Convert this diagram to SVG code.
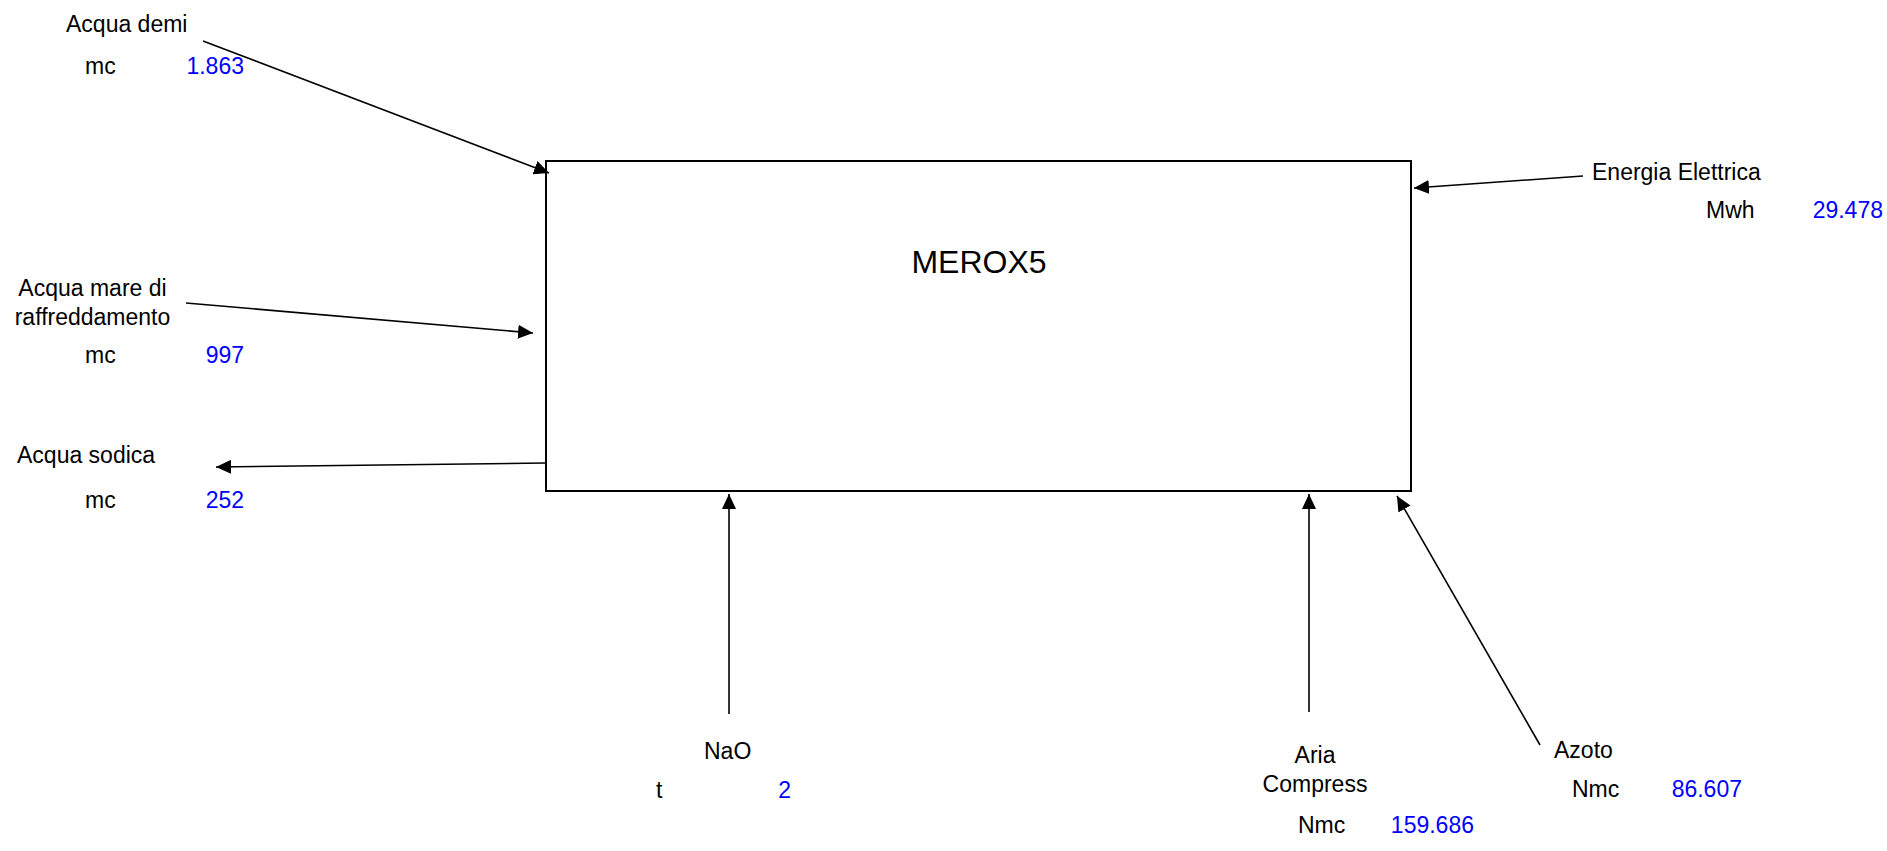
<svg xmlns="http://www.w3.org/2000/svg" width="1887" height="851" viewBox="0 0 1887 851">
<style>
.t{font-family:"Liberation Sans",Arial,sans-serif;font-size:23px;fill:#000}
.v{font-family:"Liberation Sans",Arial,sans-serif;font-size:23px;fill:#0000ff}
.c{stroke:#000;stroke-width:1.6;fill:none;marker-end:url(#ah)}
</style>
<defs>
<marker id="ah" markerUnits="userSpaceOnUse" markerWidth="16" markerHeight="14" refX="15" refY="7" orient="auto">
<path d="M0,0 L15,7 L0,14 Z" fill="#000"/>
</marker>
</defs>
<rect width="1887" height="851" fill="#fff"/>
<g id="merox5">
<rect x="546" y="161" width="865" height="330" fill="#fff" stroke="#000" stroke-width="2"/>
<text x="979" y="273" text-anchor="middle" font-family="Liberation Sans, Arial, sans-serif" font-size="32">MEROX5</text>
</g>
<g id="connectors">
<line class="c" x1="203" y1="41" x2="549" y2="173"/>
<line class="c" x1="186" y1="303" x2="533" y2="333"/>
<line class="c" x1="545" y1="463" x2="216" y2="467"/>
<line class="c" x1="1583" y1="176" x2="1414" y2="188"/>
<line class="c" x1="729" y1="714" x2="729" y2="494"/>
<line class="c" x1="1309" y1="712" x2="1309" y2="494"/>
<line class="c" x1="1540" y1="745" x2="1397" y2="496"/>
</g>
<g id="acqua-demi">
<text class="t" x="66" y="32">Acqua demi</text>
<text class="t" x="85" y="74">mc</text>
<text class="v" x="244" y="74" text-anchor="end">1.863</text>
</g>
<g id="acqua-mare">
<text class="t" x="92.5" y="296" text-anchor="middle">Acqua mare di</text>
<text class="t" x="92.5" y="325" text-anchor="middle">raffreddamento</text>
<text class="t" x="85" y="363">mc</text>
<text class="v" x="244" y="363" text-anchor="end">997</text>
</g>
<g id="acqua-sodica">
<text class="t" x="17" y="463">Acqua sodica</text>
<text class="t" x="85" y="508">mc</text>
<text class="v" x="244" y="508" text-anchor="end">252</text>
</g>
<g id="energia">
<text class="t" x="1592" y="180">Energia Elettrica</text>
<text class="t" x="1706" y="218">Mwh</text>
<text class="v" x="1883" y="218" text-anchor="end">29.478</text>
</g>
<g id="nao">
<text class="t" x="704" y="759">NaO</text>
<text class="t" x="656" y="798">t</text>
<text class="v" x="791" y="798" text-anchor="end">2</text>
</g>
<g id="aria">
<text class="t" x="1315" y="763" text-anchor="middle">Aria</text>
<text class="t" x="1315" y="792" text-anchor="middle">Compress</text>
<text class="t" x="1298" y="833">Nmc</text>
<text class="v" x="1474" y="833" text-anchor="end">159.686</text>
</g>
<g id="azoto">
<text class="t" x="1554" y="758">Azoto</text>
<text class="t" x="1572" y="797">Nmc</text>
<text class="v" x="1742" y="797" text-anchor="end">86.607</text>
</g>
</svg>
